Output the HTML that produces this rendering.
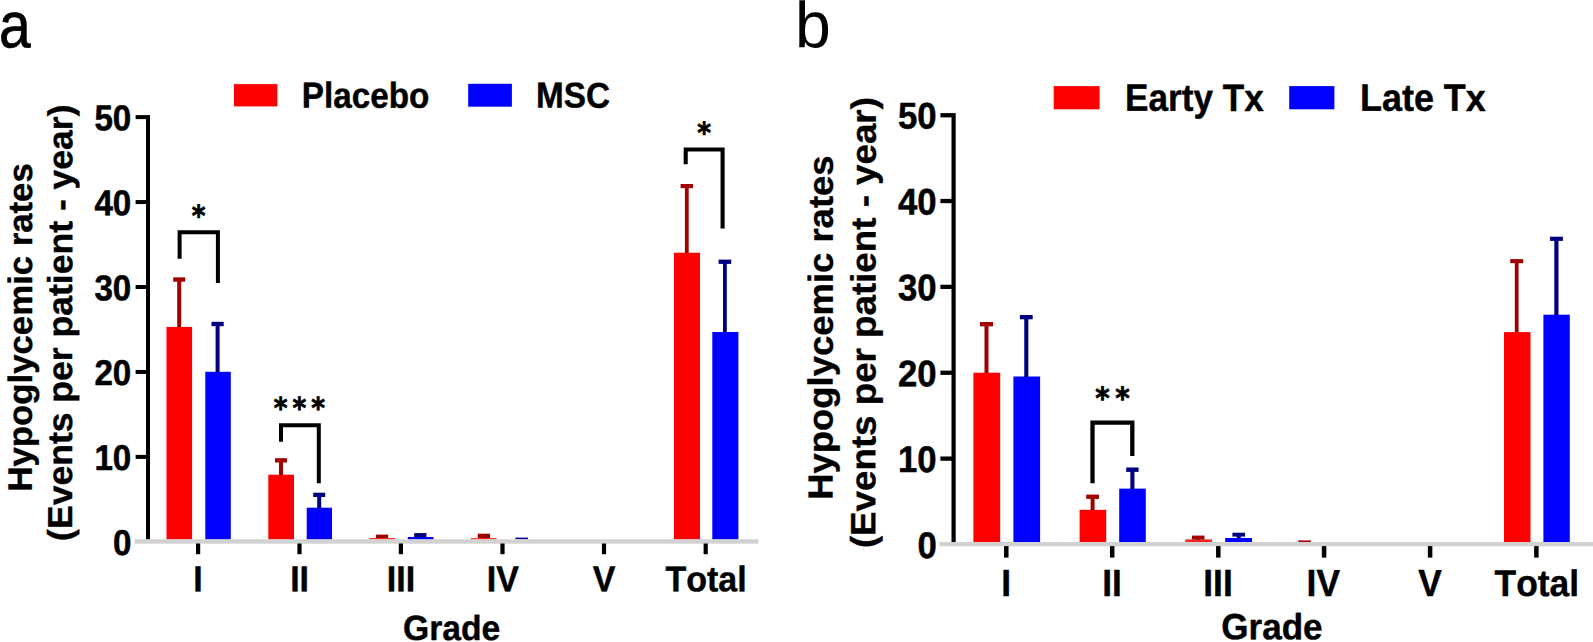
<!DOCTYPE html>
<html lang="en"><head><meta charset="utf-8"><title>Hypoglycemic rates by grade</title>
<style>
html,body{margin:0;padding:0;background:#fff;overflow:hidden}
svg{display:block}
.LS{font-family:"Liberation Sans",Arial,Helvetica,sans-serif;fill:#000;font-kerning:none}
.DJ{font-family:"DejaVu Sans Condensed","DejaVu Sans","Liberation Sans",sans-serif;fill:#000}
</style></head><body>
<svg width="1593" height="642" viewBox="0 0 1593 642">
<rect x="0" y="0" width="1593" height="642" fill="#fff"/>
<rect x="146.00" y="115.10" width="4.00" height="424.50" fill="#000"/>
<rect x="135.60" y="115.10" width="10.90" height="4.00" fill="#000"/>
<text transform="translate(94.39 130.25) skewY(0.05) scale(0.9760 1.0550)" font-size="34" font-weight="bold" class="LS" stroke="#000" stroke-width="0.5" stroke-linejoin="round">50</text>
<rect x="135.60" y="200.05" width="10.90" height="4.00" fill="#000"/>
<text transform="translate(94.39 215.20) skewY(0.05) scale(0.9760 1.0550)" font-size="34" font-weight="bold" class="LS" stroke="#000" stroke-width="0.5" stroke-linejoin="round">40</text>
<rect x="135.60" y="285.00" width="10.90" height="4.00" fill="#000"/>
<text transform="translate(94.39 300.15) skewY(0.05) scale(0.9760 1.0550)" font-size="34" font-weight="bold" class="LS" stroke="#000" stroke-width="0.5" stroke-linejoin="round">30</text>
<rect x="135.60" y="369.95" width="10.90" height="4.00" fill="#000"/>
<text transform="translate(94.39 385.10) skewY(0.05) scale(0.9760 1.0550)" font-size="34" font-weight="bold" class="LS" stroke="#000" stroke-width="0.5" stroke-linejoin="round">20</text>
<rect x="135.60" y="454.90" width="10.90" height="4.00" fill="#000"/>
<text transform="translate(94.39 470.05) skewY(0.05) scale(0.9760 1.0550)" font-size="34" font-weight="bold" class="LS" stroke="#000" stroke-width="0.5" stroke-linejoin="round">10</text>
<text transform="translate(112.98 555.00) skewY(0.05) scale(0.9760 1.0550)" font-size="34" font-weight="bold" class="LS" stroke="#000" stroke-width="0.5" stroke-linejoin="round">0</text>
<rect x="166.50" y="326.90" width="25.60" height="212.60" fill="#ff0000"/>
<rect x="205.30" y="371.80" width="25.50" height="167.70" fill="#0000ff"/>
<rect x="268.30" y="474.70" width="25.70" height="64.80" fill="#ff0000"/>
<rect x="306.70" y="507.70" width="25.30" height="31.80" fill="#0000ff"/>
<rect x="369.40" y="538.00" width="25.80" height="1.50" fill="#f33"/>
<rect x="407.80" y="537.00" width="25.60" height="2.50" fill="#0000ff"/>
<rect x="471.00" y="538.00" width="25.60" height="1.50" fill="#f33"/>
<rect x="674.00" y="252.70" width="26.00" height="286.80" fill="#ff0000"/>
<rect x="712.30" y="332.00" width="26.10" height="207.50" fill="#0000ff"/>
<rect x="177.20" y="277.90" width="4.00" height="49.60" fill="#a00000"/>
<rect x="173.20" y="277.40" width="12.00" height="4.30" fill="#a00000"/>
<rect x="215.60" y="322.30" width="4.00" height="50.20" fill="#000080"/>
<rect x="211.50" y="321.80" width="12.20" height="4.40" fill="#000080"/>
<rect x="279.00" y="458.70" width="4.00" height="16.50" fill="#a00000"/>
<rect x="275.00" y="458.20" width="12.00" height="4.30" fill="#a00000"/>
<rect x="317.20" y="493.20" width="4.00" height="15.10" fill="#000080"/>
<rect x="313.20" y="492.70" width="12.00" height="4.30" fill="#000080"/>
<rect x="376.00" y="534.60" width="12.20" height="3.60" fill="#a00000"/>
<rect x="418.30" y="533.60" width="4.00" height="3.60" fill="#000080"/>
<rect x="414.20" y="533.10" width="12.20" height="4.00" fill="#000080"/>
<rect x="481.90" y="534.20" width="4.00" height="4.00" fill="#a00000"/>
<rect x="477.75" y="533.70" width="12.30" height="4.40" fill="#a00000"/>
<rect x="515.40" y="537.60" width="12.60" height="1.70" fill="#000080"/>
<rect x="684.90" y="184.50" width="3.80" height="68.70" fill="#a00000"/>
<rect x="680.60" y="184.00" width="12.40" height="4.20" fill="#a00000"/>
<rect x="723.00" y="260.10" width="3.80" height="72.40" fill="#000080"/>
<rect x="718.60" y="259.60" width="12.60" height="4.30" fill="#000080"/>
<rect x="134.60" y="539.30" width="623.60" height="4.40" fill="#d2d2d2"/>
<rect x="196.00" y="543.50" width="4.20" height="10.70" fill="#000"/>
<text transform="translate(193.34 591.20) skewY(0.05) scale(1.0000 1.0600)" font-size="34" font-weight="bold" class="LS" stroke="#000" stroke-width="0.4" stroke-linejoin="round">I</text>
<rect x="297.40" y="543.50" width="4.20" height="10.70" fill="#000"/>
<text transform="translate(290.18 591.20) skewY(0.05) scale(1.0000 1.0600)" font-size="34" font-weight="bold" class="LS" stroke="#000" stroke-width="0.4" stroke-linejoin="round">II</text>
<rect x="398.80" y="543.50" width="4.20" height="10.70" fill="#000"/>
<text transform="translate(386.82 591.20) skewY(0.05) scale(1.0000 1.0600)" font-size="34" font-weight="bold" class="LS" stroke="#000" stroke-width="0.4" stroke-linejoin="round">III</text>
<rect x="500.40" y="543.50" width="4.20" height="10.70" fill="#000"/>
<text transform="translate(486.73 591.20) skewY(0.05) scale(1.0000 1.0600)" font-size="34" font-weight="bold" class="LS" stroke="#000" stroke-width="0.4" stroke-linejoin="round">IV</text>
<rect x="601.90" y="543.50" width="4.20" height="10.70" fill="#000"/>
<text transform="translate(592.71 591.20) skewY(0.05) scale(1.0000 1.0600)" font-size="34" font-weight="bold" class="LS" stroke="#000" stroke-width="0.4" stroke-linejoin="round">V</text>
<rect x="703.60" y="543.50" width="4.20" height="10.70" fill="#000"/>
<text transform="translate(665.49 591.20) skewY(0.05) scale(1.0000 1.0450)" font-size="34" font-weight="bold" class="LS" stroke="#000" stroke-width="0.4" stroke-linejoin="round">Total</text>
<text transform="translate(403.09 640.00) skewY(0.05) scale(0.9900 1.0300)" font-size="34" font-weight="bold" class="LS" stroke="#000" stroke-width="0.4" stroke-linejoin="round">Grade</text>
<path d="M179.60 258.70V232.20H217.90V283.00" fill="none" stroke="#000" stroke-width="4.0" stroke-linejoin="miter"/>
<path d="M281.00 441.80V425.20H318.80V483.20" fill="none" stroke="#000" stroke-width="4.0" stroke-linejoin="miter"/>
<path d="M685.70 164.30V149.50H722.60V228.40" fill="none" stroke="#000" stroke-width="4.1" stroke-linejoin="miter"/>
<text transform="translate(191.74 225.90) skewY(0.05) scale(1.0000 1.0000)" font-size="29.2" font-weight="bold" class="DJ" letter-spacing="5.08" stroke="#000" stroke-width="0.7" stroke-linejoin="round">*</text>
<text transform="translate(273.70 418.30) skewY(0.05) scale(1.0000 1.0000)" font-size="29.2" font-weight="bold" class="DJ" letter-spacing="5.08" stroke="#000" stroke-width="0.7" stroke-linejoin="round">***</text>
<text transform="translate(697.34 143.00) skewY(0.05) scale(1.0000 1.0000)" font-size="29.2" font-weight="bold" class="DJ" letter-spacing="5.08" stroke="#000" stroke-width="0.7" stroke-linejoin="round">*</text>
<rect x="234.00" y="84.10" width="43.40" height="22.30" fill="#ff0000"/>
<rect x="468.20" y="83.80" width="43.70" height="22.90" fill="#0000ff"/>
<text transform="translate(301.87 107.60) skewY(0.05) scale(0.9980 1.0800)" font-size="33.3" font-weight="bold" class="LS" stroke="#000" stroke-width="0.4" stroke-linejoin="round">Placebo</text>
<text transform="translate(535.97 107.60) skewY(0.05) scale(1.0000 1.0800)" font-size="33.3" font-weight="bold" class="LS" stroke="#000" stroke-width="0.4" stroke-linejoin="round">MSC</text>
<text transform="translate(31.80 491.56) rotate(-90) skewY(0.05) scale(1.0000 0.9750)" font-size="34.76" font-weight="bold" class="LS" stroke="#000" stroke-width="0.4" stroke-linejoin="round">Hypoglycemic rates</text>
<text transform="translate(71.90 540.88) rotate(-90) skewY(0.05) scale(1.0000 0.9750)" font-size="35.55" font-weight="bold" class="LS" stroke="#000" stroke-width="0.4" stroke-linejoin="round">(Events per patient - year)</text>
<text transform="translate(-0.98 47.20) skewY(0.05) scale(0.8850 1.0000)" font-size="64.5" font-weight="normal" class="LS" stroke="#000" stroke-width="0.7" stroke-linejoin="round">a</text>
<rect x="951.50" y="113.10" width="4.20" height="429.20" fill="#000"/>
<rect x="940.40" y="113.10" width="11.60" height="4.30" fill="#000"/>
<text transform="translate(898.08 128.60) skewY(0.05) scale(0.9800 1.0450)" font-size="35.4" font-weight="bold" class="LS" stroke="#000" stroke-width="0.5" stroke-linejoin="round">50</text>
<rect x="940.40" y="198.87" width="11.60" height="4.30" fill="#000"/>
<text transform="translate(898.08 214.47) skewY(0.05) scale(0.9800 1.0450)" font-size="35.4" font-weight="bold" class="LS" stroke="#000" stroke-width="0.5" stroke-linejoin="round">40</text>
<rect x="940.40" y="284.74" width="11.60" height="4.30" fill="#000"/>
<text transform="translate(898.08 300.34) skewY(0.05) scale(0.9800 1.0450)" font-size="35.4" font-weight="bold" class="LS" stroke="#000" stroke-width="0.5" stroke-linejoin="round">30</text>
<rect x="940.40" y="370.61" width="11.60" height="4.30" fill="#000"/>
<text transform="translate(898.08 386.21) skewY(0.05) scale(0.9800 1.0450)" font-size="35.4" font-weight="bold" class="LS" stroke="#000" stroke-width="0.5" stroke-linejoin="round">20</text>
<rect x="940.40" y="456.48" width="11.60" height="4.30" fill="#000"/>
<text transform="translate(898.08 472.08) skewY(0.05) scale(0.9800 1.0450)" font-size="35.4" font-weight="bold" class="LS" stroke="#000" stroke-width="0.5" stroke-linejoin="round">10</text>
<text transform="translate(917.51 557.95) skewY(0.05) scale(0.9800 1.0450)" font-size="35.4" font-weight="bold" class="LS" stroke="#000" stroke-width="0.5" stroke-linejoin="round">0</text>
<rect x="973.40" y="372.70" width="26.80" height="169.50" fill="#ff0000"/>
<rect x="1013.40" y="376.50" width="26.70" height="165.70" fill="#0000ff"/>
<rect x="1079.60" y="509.80" width="26.60" height="32.40" fill="#ff0000"/>
<rect x="1119.20" y="488.60" width="26.60" height="53.60" fill="#0000ff"/>
<rect x="1185.30" y="539.40" width="26.70" height="2.80" fill="#f22"/>
<rect x="1225.20" y="538.00" width="26.80" height="4.20" fill="#0000ff"/>
<rect x="1504.00" y="332.10" width="26.50" height="210.10" fill="#ff0000"/>
<rect x="1543.40" y="314.70" width="26.40" height="227.50" fill="#0000ff"/>
<rect x="984.50" y="322.50" width="4.00" height="50.70" fill="#a00000"/>
<rect x="980.00" y="322.00" width="13.00" height="4.40" fill="#a00000"/>
<rect x="1024.25" y="315.50" width="4.10" height="61.50" fill="#000080"/>
<rect x="1019.90" y="315.00" width="12.80" height="4.30" fill="#000080"/>
<rect x="1090.60" y="495.10" width="4.00" height="15.20" fill="#a00000"/>
<rect x="1086.20" y="494.60" width="12.80" height="4.30" fill="#a00000"/>
<rect x="1130.35" y="468.00" width="4.10" height="21.10" fill="#000080"/>
<rect x="1126.20" y="467.50" width="12.40" height="4.40" fill="#000080"/>
<rect x="1196.20" y="536.10" width="4.00" height="3.50" fill="#a00000"/>
<rect x="1191.90" y="535.60" width="12.60" height="3.90" fill="#a00000"/>
<rect x="1236.70" y="533.20" width="4.00" height="5.00" fill="#000080"/>
<rect x="1232.40" y="532.70" width="12.60" height="3.90" fill="#000080"/>
<rect x="1298.30" y="540.40" width="12.60" height="1.60" fill="#a00000"/>
<rect x="1514.80" y="259.60" width="3.80" height="73.00" fill="#a00000"/>
<rect x="1510.25" y="259.10" width="12.90" height="4.10" fill="#a00000"/>
<rect x="1554.30" y="237.20" width="4.20" height="78.00" fill="#000080"/>
<rect x="1549.95" y="236.70" width="12.90" height="4.20" fill="#000080"/>
<rect x="939.50" y="542.00" width="653.50" height="4.30" fill="#d2d2d2"/>
<rect x="1004.05" y="546.10" width="4.50" height="11.50" fill="#000"/>
<text transform="translate(1001.34 596.00) skewY(0.05) scale(1.0000 1.0650)" font-size="35.4" font-weight="bold" class="LS" stroke="#000" stroke-width="0.4" stroke-linejoin="round">I</text>
<rect x="1109.95" y="546.10" width="4.50" height="11.50" fill="#000"/>
<text transform="translate(1102.29 596.00) skewY(0.05) scale(1.0000 1.0650)" font-size="35.4" font-weight="bold" class="LS" stroke="#000" stroke-width="0.4" stroke-linejoin="round">II</text>
<rect x="1216.05" y="546.10" width="4.50" height="11.50" fill="#000"/>
<text transform="translate(1203.23 596.00) skewY(0.05) scale(1.0000 1.0650)" font-size="35.4" font-weight="bold" class="LS" stroke="#000" stroke-width="0.4" stroke-linejoin="round">III</text>
<rect x="1321.85" y="546.10" width="4.50" height="11.50" fill="#000"/>
<text transform="translate(1306.62 596.00) skewY(0.05) scale(1.0000 1.0650)" font-size="35.4" font-weight="bold" class="LS" stroke="#000" stroke-width="0.4" stroke-linejoin="round">IV</text>
<rect x="1427.85" y="546.10" width="4.50" height="11.50" fill="#000"/>
<text transform="translate(1418.14 596.00) skewY(0.05) scale(1.0000 1.0650)" font-size="35.4" font-weight="bold" class="LS" stroke="#000" stroke-width="0.4" stroke-linejoin="round">V</text>
<rect x="1534.15" y="546.10" width="4.50" height="11.50" fill="#000"/>
<text transform="translate(1494.56 596.00) skewY(0.05) scale(1.0000 1.0475)" font-size="35.4" font-weight="bold" class="LS" stroke="#000" stroke-width="0.4" stroke-linejoin="round">Total</text>
<text transform="translate(1221.28 639.20) skewY(0.05) scale(0.9900 1.0300)" font-size="35.4" font-weight="bold" class="LS" stroke="#000" stroke-width="0.4" stroke-linejoin="round">Grade</text>
<path d="M1092.50 483.20V422.60H1132.30V455.90" fill="none" stroke="#000" stroke-width="4.3" stroke-linejoin="miter"/>
<text transform="translate(1095.31 408.90) skewY(0.05) scale(1.0000 1.0000)" font-size="30.7" font-weight="bold" class="DJ" letter-spacing="5.53" stroke="#000" stroke-width="0.7" stroke-linejoin="round">**</text>
<rect x="1053.70" y="86.10" width="45.90" height="23.20" fill="#ff0000"/>
<rect x="1289.20" y="86.10" width="45.20" height="23.20" fill="#0000ff"/>
<text transform="translate(1125.04 110.80) skewY(0.05) scale(0.9880 1.0700)" font-size="35.6" font-weight="bold" class="LS" stroke="#000" stroke-width="0.4" stroke-linejoin="round">Earty Tx</text>
<text transform="translate(1359.98 110.80) skewY(0.05) scale(1.0100 1.0700)" font-size="35.6" font-weight="bold" class="LS" stroke="#000" stroke-width="0.4" stroke-linejoin="round">Late Tx</text>
<text transform="translate(832.50 499.72) rotate(-90) skewY(0.05) scale(1.0000 0.9550)" font-size="36.46" font-weight="bold" class="LS" stroke="#000" stroke-width="0.4" stroke-linejoin="round">Hypoglycemic rates</text>
<text transform="translate(875.30 548.12) rotate(-90) skewY(0.05) scale(1.0000 0.9550)" font-size="36.73" font-weight="bold" class="LS" stroke="#000" stroke-width="0.4" stroke-linejoin="round">(Events per patient - year)</text>
<text transform="translate(795.00 47.20) skewY(0.05) scale(0.9900 1.0000)" font-size="65" font-weight="normal" class="LS">b</text>
</svg>
</body></html>
